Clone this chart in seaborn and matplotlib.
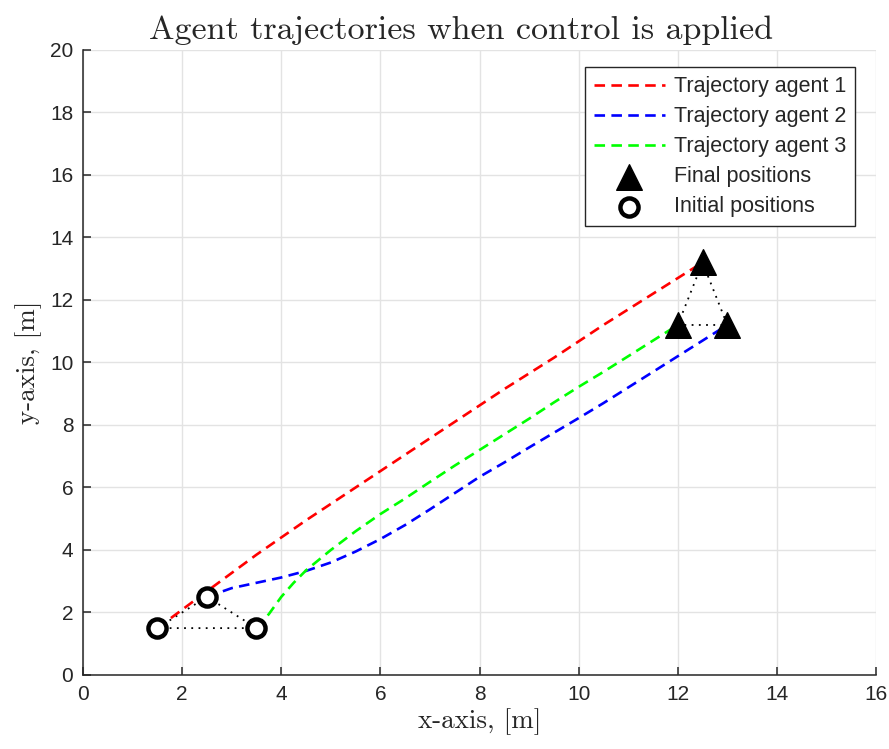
import numpy as np
import pandas as pd
import matplotlib
matplotlib.use("Agg")
import matplotlib.pyplot as plt
import seaborn as sns

# Trajectories of the three agents (x, y in metres)
agent1_x = [1.5, 2.5, 3.5, 4.5, 5.5, 6.5, 7.5, 8.5, 9.5, 10.5, 11.5, 12.5]
agent1_y = [1.5, 2.68, 3.85, 4.95, 6.0, 7.05, 8.1, 9.15, 10.15, 11.2, 12.2, 13.2]

agent2_x = [2.5, 3.0, 3.5, 4.0, 4.5, 5.0, 5.5, 6.0, 6.5, 7.0, 7.5, 8.0, 8.5,
            9.0, 9.5, 10.0, 10.5, 11.0, 11.5, 12.0, 12.5, 13.0]
agent2_y = [2.5, 2.78, 2.95, 3.12, 3.33, 3.6, 3.95, 4.35, 4.8, 5.3, 5.82,
            6.34, 6.8, 7.28, 7.75, 8.22, 8.7, 9.2, 9.7, 10.2, 10.7, 11.2]

agent3_x = [3.5, 3.75, 4.0, 4.25, 4.5, 5.0, 5.5, 6.0, 6.5, 7.0, 7.5, 8.0, 8.5,
            9.0, 9.5, 10.0, 10.5, 11.0, 11.5, 12.0]
agent3_y = [1.5, 1.95, 2.5, 2.95, 3.35, 4.0, 4.6, 5.15, 5.65, 6.18, 6.7, 7.2,
            7.7, 8.2, 8.72, 9.22, 9.7, 10.2, 10.7, 11.2]

initial_x = [1.5, 2.5, 3.5]
initial_y = [1.5, 2.5, 1.5]
final_x = [12.5, 13.0, 12.0]
final_y = [13.2, 11.2, 11.2]

agent_labels = ["Trajectory agent 1", "Trajectory agent 2", "Trajectory agent 3"]
agent_colors = ["#ff0000", "#0000ff", "#00ff00"]

x_ticks = list(range(0, 17, 2))
y_ticks = list(range(0, 21, 2))

sns.set_style("whitegrid")
plt.rcParams["font.family"] = ["Liberation Sans", "DejaVu Sans"]

fig = plt.figure(figsize=(8.89, 7.49), dpi=100)
ax = fig.add_axes([0.0934, 0.0988, 0.8920, 0.8345])

traj = pd.concat([
    pd.DataFrame({"x": xs, "y": ys, "agent": lab})
    for xs, ys, lab in zip([agent1_x, agent2_x, agent3_x],
                           [agent1_y, agent2_y, agent3_y], agent_labels)
])

for lab, col in zip(agent_labels, agent_colors):
    d = traj[traj["agent"] == lab]
    sns.lineplot(data=d, x="x", y="y", sort=False, estimator=None, ax=ax,
                 color=col, linewidth=1.9, dashes=False, label=lab, zorder=3)
    ax.lines[-1].set_dashes((4.0, 2.4))

# Formation outlines (dotted) at start and end
ix = initial_x + [initial_x[0]]
iy = initial_y + [initial_y[0]]
fx = final_x + [final_x[0]]
fy = final_y + [final_y[0]]
ax.plot(ix, iy, color="black", linestyle=(0, (1, 3)), linewidth=1.3, zorder=2)
ax.plot(fx, fy, color="black", linestyle=(0, (1, 3)), linewidth=1.3, zorder=2)

sns.scatterplot(x=final_x, y=final_y, marker="^", s=340, color="black",
                edgecolor="black", linewidth=1, ax=ax, label="Final positions",
                zorder=5)
sns.scatterplot(x=initial_x, y=initial_y, marker="o", s=170, facecolor="white",
                edgecolor="black", linewidth=3.2, ax=ax,
                label="Initial positions", zorder=5)

ax.set_xlim(0, 16)
ax.set_ylim(0, 20)
ax.set_xticks(x_ticks)
ax.set_yticks(y_ticks)
ax.tick_params(direction="in", length=6, width=1.1, labelsize=15,
               colors="#262626", left=True, bottom=True, pad=7)
ax.grid(True, color="#e3e3e3", linewidth=1.0)
for side in ["top", "right"]:
    ax.spines[side].set_visible(False)
for side in ["left", "bottom"]:
    ax.spines[side].set_color("#262626")
    ax.spines[side].set_linewidth(1.1)

ax.set_title("Agent trajectories when control is applied", fontfamily="cmr10",
             fontsize=24.5, pad=8, x=0.477)
ax.set_xlabel("x-axis, [m]", fontfamily="cmr10", fontsize=19.5, labelpad=3)
ax.set_ylabel("y-axis, [m]", fontfamily="cmr10", fontsize=19.5, labelpad=6)

leg = ax.legend(loc="upper right", bbox_to_anchor=(0.974, 0.972), fontsize=15.5,
                frameon=True, fancybox=False, edgecolor="#262626",
                framealpha=1, handlelength=3.3, borderpad=0.4,
                labelspacing=0.42, handletextpad=0.45, borderaxespad=0)
leg.get_frame().set_linewidth(1.0)

fig.savefig("out.png", dpi=100)
